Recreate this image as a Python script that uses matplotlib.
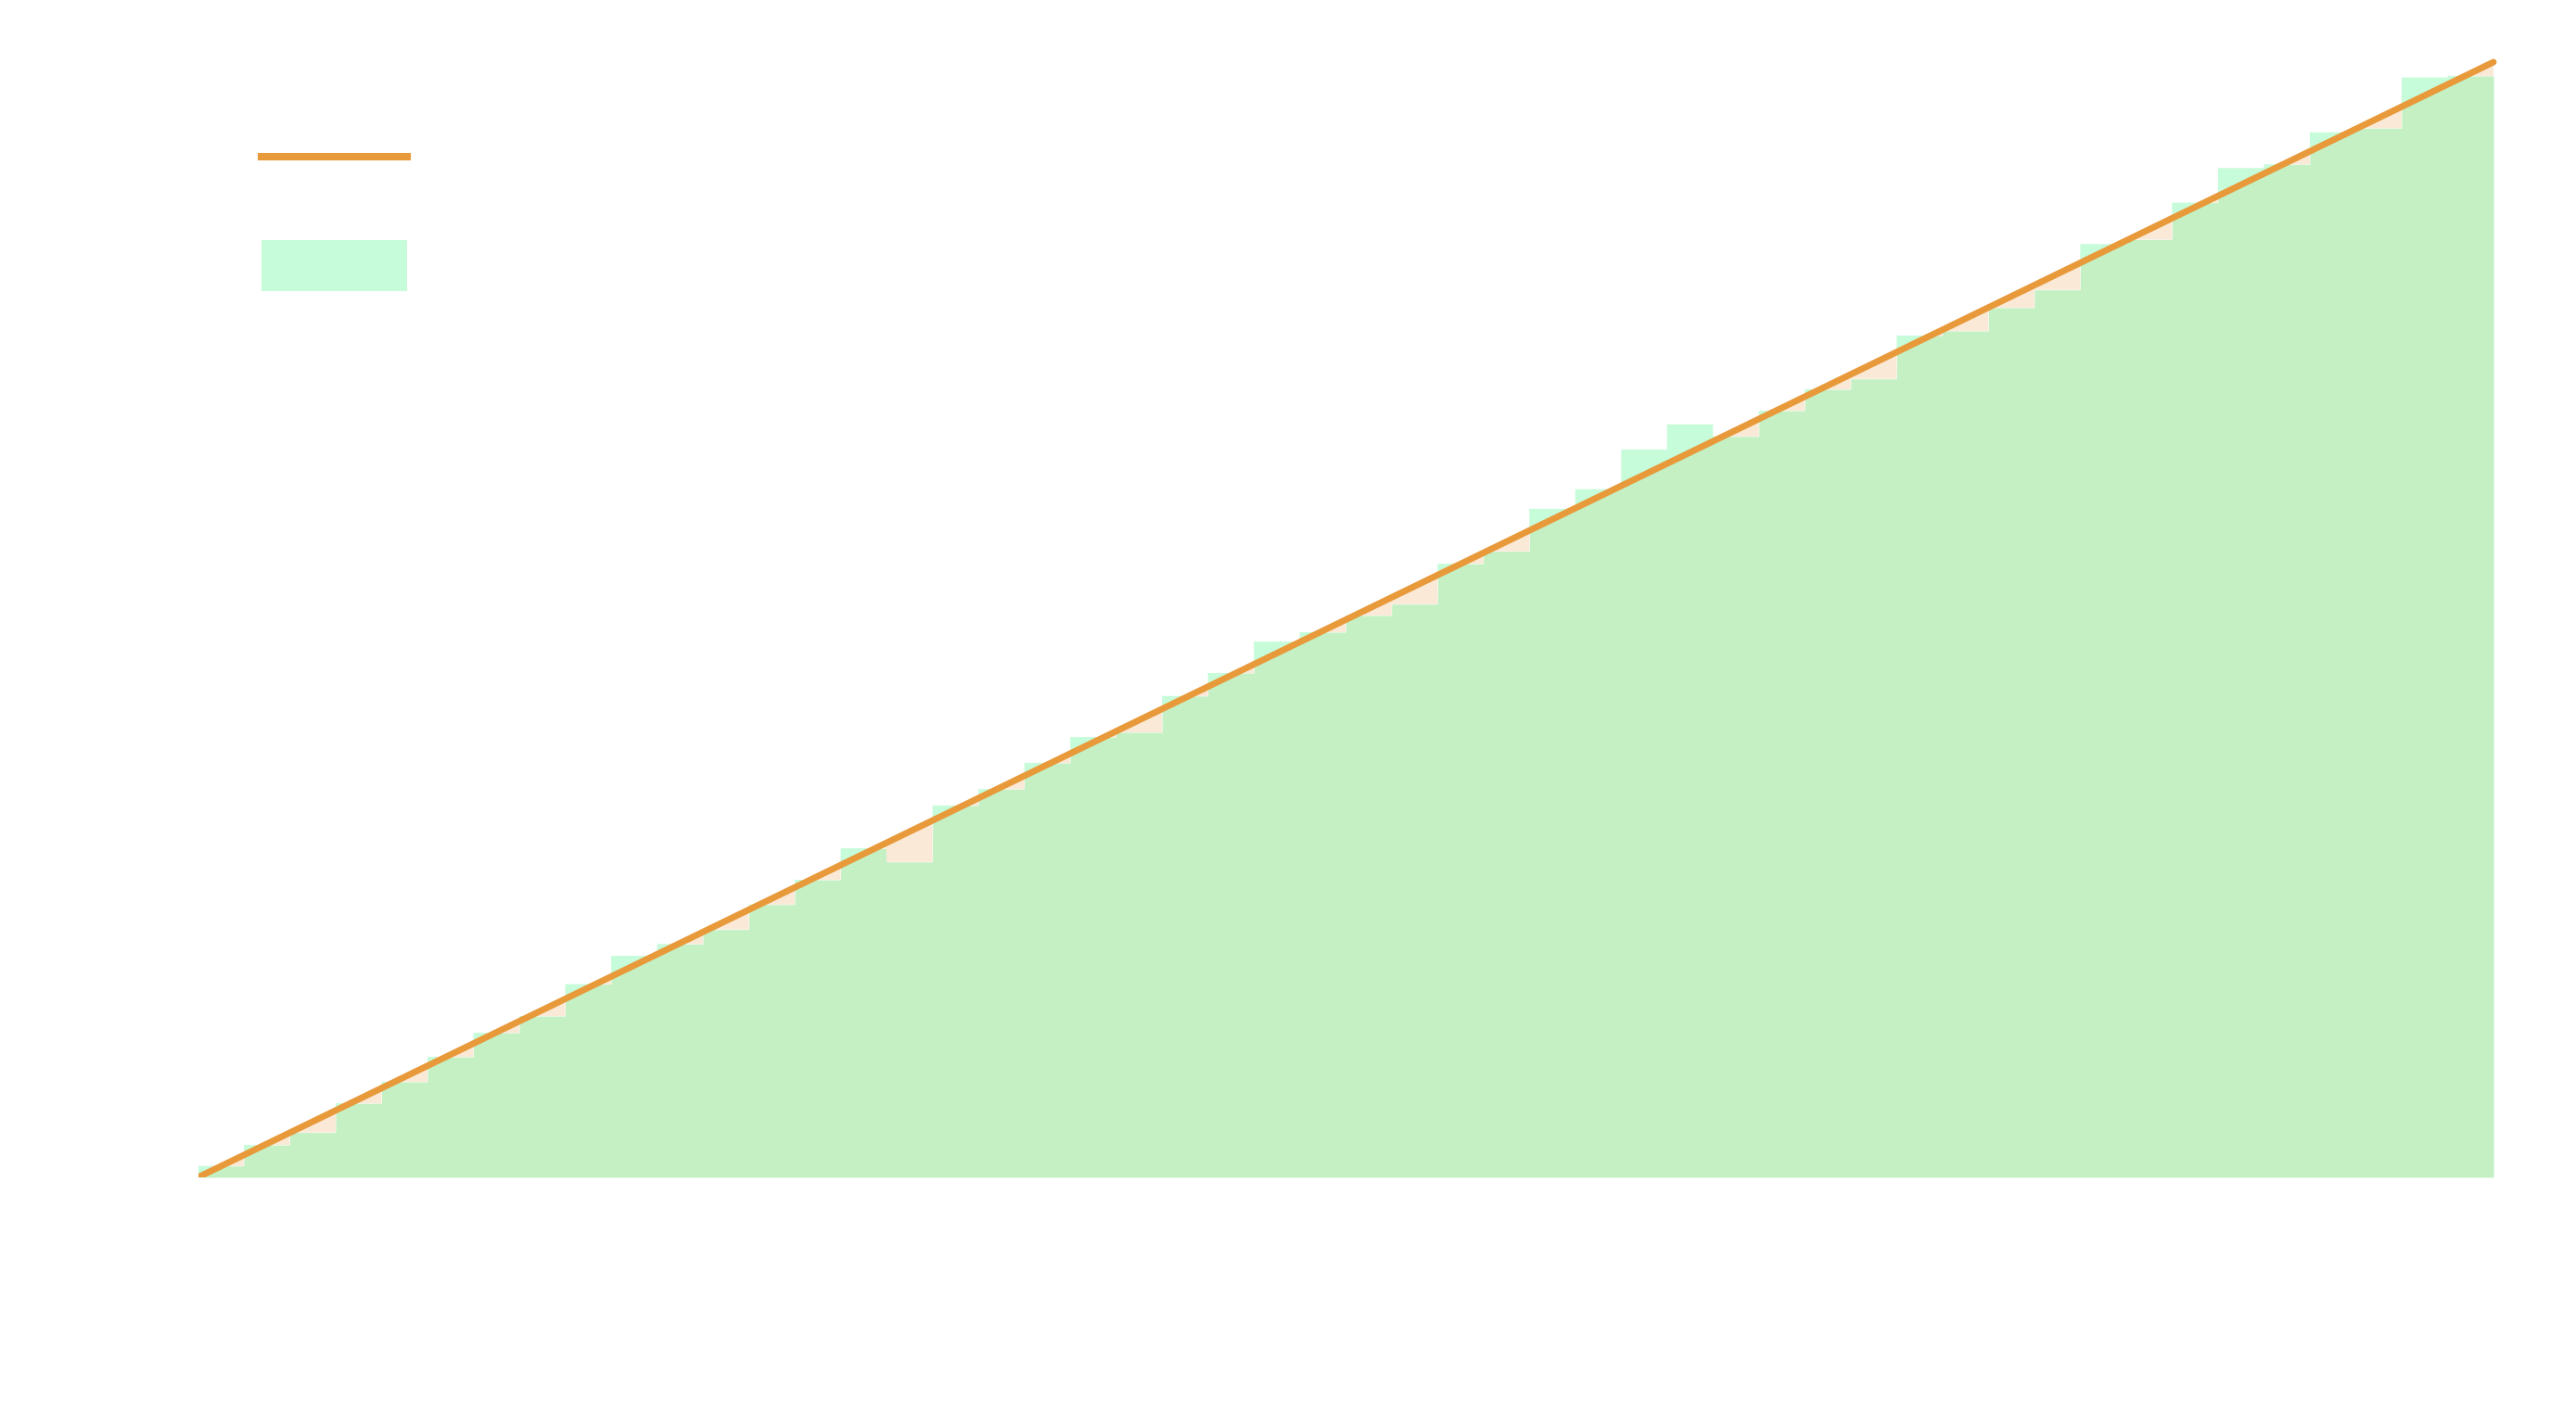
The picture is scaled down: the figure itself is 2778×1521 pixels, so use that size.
import numpy as np
import matplotlib
matplotlib.use("Agg")
import matplotlib.pyplot as plt
from matplotlib.patches import Patch
from matplotlib.lines import Line2D

# ---- data ----
step_edges = np.arange(51)  # step boundaries 0..50
observed = [0.51, 1.45, 2.01, 3.32, 4.28, 5.40, 6.48, 7.23, 8.66, 9.93,
            10.46, 11.11, 12.23, 13.34, 14.75, 14.14, 16.67, 17.41, 18.58, 19.74,
            19.95, 21.58, 22.61, 24.02, 24.44, 25.19, 25.70, 27.51, 28.07, 29.97,
            30.85, 32.63, 33.76, 33.22, 34.37, 35.33, 35.80, 37.74, 37.95, 38.99,
            39.79, 41.84, 42.05, 43.70, 45.25, 45.42, 46.85, 47.04, 49.31, 49.38]
expected_x = [0, 50]
expected_y = [0, 50]
labels = ["Expected", "Observed"]

# ---- style ----
c_line = "#e8993a"
c_green = "#c4f0c4"
c_mint = "#c6fcd9"
c_peach = "#fae9d6"

W, H, DPI = 2778, 1521, 200
fig = plt.figure(figsize=(W / DPI, H / DPI), dpi=DPI)
unit_x = (2689 - 213.5) / 50.0
unit_y = 24.06
xmax = 50.15
ymax = 52.5
ax = fig.add_axes([213.5 / W, (H - 1270) / H, xmax * unit_x / W, ymax * unit_y / H])

obs = np.asarray(observed)
xs = np.linspace(step_edges[0], step_edges[-1], 20001)
idx = np.minimum(np.floor(xs).astype(int), len(obs) - 1)
step_y = obs[idx]
line_y = np.interp(xs, expected_x, expected_y)

ax.fill_between(xs, 0, np.minimum(step_y, line_y), color=c_green, lw=0)
ax.fill_between(xs, line_y, step_y, where=step_y > line_y, color=c_mint, lw=0)
ax.fill_between(xs, step_y, line_y, where=step_y < line_y, color=c_peach, lw=0)
ax.plot(expected_x, expected_y, color=c_line, lw=2.5, solid_capstyle="round")

ax.set_xlim(0, xmax)
ax.set_ylim(0, ymax)
ax.axis("off")

handles = [Line2D([0], [0], color=c_line, lw=2.9),
           Patch(facecolor=c_mint, edgecolor="none")]
leg = fig.legend(handles, labels, loc="upper left",
                 bbox_to_anchor=(250.6 / W, 1 - 105 / H), borderaxespad=0,
                 fontsize=28.3, frameon=False, labelspacing=0.53)
for t in leg.get_texts():
    t.set_color("white")

fig.savefig("out.png", dpi=DPI, facecolor="white")
